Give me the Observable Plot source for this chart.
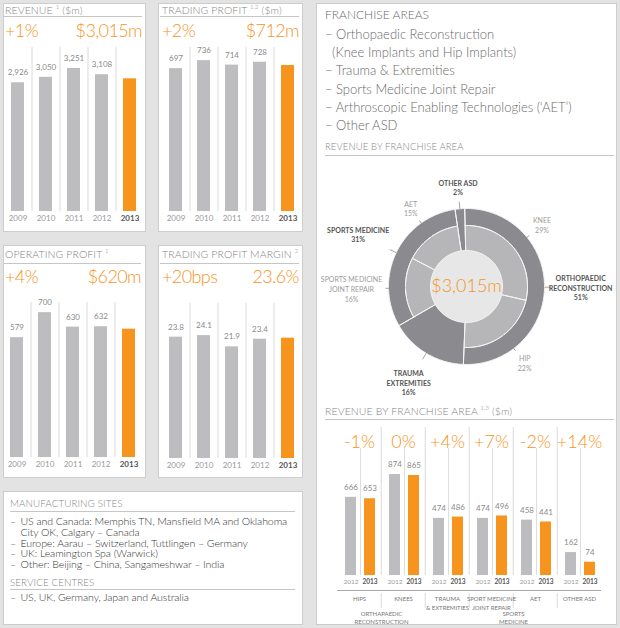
<!DOCTYPE html>
<html><head><meta charset="utf-8">
<script src="https://cdn.jsdelivr.net/npm/d3@7"></script>
<script src="https://cdn.jsdelivr.net/npm/@observablehq/plot@0.6"></script>
<style>
body{margin:0;background:#e3e3e3;}
#page{position:relative;width:620px;height:628px;background:#e3e3e3;overflow:hidden;font-family:Lato,"Open Sans",sans-serif;}
.panel{position:absolute;background:#fff;border:1px solid #cdcdcd;box-sizing:border-box;}
.t{position:absolute;white-space:pre;line-height:1;}
.title{font-size:10.5px;color:#858585;font-weight:300;letter-spacing:0.1px;}
.title sup{font-size:6px;vertical-align:top;position:relative;top:-1px;}
.big{font-size:18px;color:#f7941d;font-weight:300;letter-spacing:-0.6px;}
.hr{position:absolute;height:0;border-top:1px solid #c6c6c6;}
.list{font-size:13px;color:#6a6a6a;font-weight:300;}
.item{font-size:10.6px;color:#333;font-weight:300;letter-spacing:-0.1px;}
svg{position:absolute;}
</style></head>
<body><div id="page"></div>
<script>
// ---------- data ----------
const years = ["2009", "2010", "2011", "2012", "2013"];
const revenue = [2926, 3050, 3251, 3108, 3015];
const tradingProfit = [697, 736, 714, 728, 712];
const operatingProfit = [579, 700, 630, 632, 620];
const tradingMargin = [23.8, 24.1, 21.9, 23.4, 23.6];

const franchiseKeys = ["HIPS", "KNEES", "TRAUMA", "SMJR", "AET", "OTHER"];
const franchiseLabels = ["HIPS", "KNEES", "TRAUMA\n& EXTREMITIES", "SPORT MEDICINE\nJOINT REPAIR", "AET", "OTHER ASD"];
const franchise2012 = [666, 874, 474, 474, 458, 162];
const franchise2013 = [653, 865, 486, 496, 441, 74];
const franchiseChange = ["-1%", "0%", "+4%", "+7%", "-2%", "+14%"];
const parentAfter = ["HIPS", "SMJR"];
const parentLabels = ["ORTHAPAEDIC\nRECONSTRUCTION", "SPORTS\nMEDICINE"];

const areaNames = ["ORTHOPAEDIC\nRECONSTRUCTION", "TRAUMA\nEXTREMITIES", "SPORTS MEDICINE", "OTHER ASD"];
const areaPct = [51, 16, 31, 2];
const partNames = ["KNEE", "HIP", "SPORTS MEDICINE\nJOINT REPAIR", "AET"];
const partPct = [29, 22, 16, 15];
const partArea = [0, 0, 2, 2];

const franchiseList = ["– Orthopaedic Reconstruction", "  (Knee Implants and Hip Implants)", "– Trauma & Extremities", "– Sports Medicine Joint Repair", "– Arthroscopic Enabling Technologies (‘AET’)", "– Other ASD"];
const mfgSites = ["US and Canada: Memphis TN, Mansfield MA and Oklahoma\nCity OK, Calgary – Canada", "Europe: Aarau – Switzerland, Tuttlingen – Germany", "UK: Leamington Spa (Warwick)", "Other: Beijing – China, Sangameshwar – India"];
const serviceCentres = ["US, UK, Germany, Japan and Australia"];

// ---------- helpers ----------
const gray = "#bdbdbf", orange = "#f7941d";
const page = document.getElementById("page");
function panel(l, t, w, h) { const d = document.createElement("div"); d.className = "panel"; Object.assign(d.style, {left: l + "px", top: t + "px", width: w + "px", height: h + "px"}); page.appendChild(d); }
function txt(x, y, html, cls, anchor = "start", style = {}) {
  const d = document.createElement("div"); d.className = "t " + cls; d.innerHTML = html;
  d.style.left = x + "px"; d.style.top = y + "px";
  const tx = anchor === "end" ? "-100%" : anchor === "middle" ? "-50%" : "0";
  d.style.transform = `translate(${tx},-50%)`; Object.assign(d.style, style); page.appendChild(d); return d;
}
function hr(x1, x2, y) { const d = document.createElement("div"); d.className = "hr"; Object.assign(d.style, {left: x1 + "px", top: y + "px", width: (x2 - x1) + "px"}); page.appendChild(d); }
function place(svg, x, y) { svg.style.left = x + "px"; svg.style.top = y + "px"; page.appendChild(svg); }
const plotStyle = {background: "transparent", overflow: "visible", fontFamily: "Lato, sans-serif"};

// ---------- panels ----------
panel(3, 3, 143, 229); panel(158, 3, 145, 229);
panel(3, 245, 143, 233); panel(158, 245, 145, 233);
panel(3, 491, 300, 134); panel(316, 3, 301, 622);

// ---------- small bar charts ----------
function smallChart(values, fmt, yMax, left, top, plotH) {
  const rows = years.map((year, i) => ({year, value: values[i]}));
  const past = rows.filter(d => d.year !== years[years.length - 1]);
  const cur = rows.filter(d => d.year === years[years.length - 1]);
  const svg = Plot.plot({
    width: 140, height: plotH + 20, marginTop: 0, marginBottom: 20, marginLeft: 0, marginRight: 0,
    style: plotStyle,
    x: {domain: years, paddingInner: 0.536, paddingOuter: 0.268, axis: null},
    y: {domain: [0, yMax], axis: null},
    color: {domain: ["past", "current"], range: [gray, orange]},
    marks: [
      Plot.ruleX(years.slice(0, -1), {x: d => d, dx: 14, stroke: "#dadada"}),
      Plot.barY(rows, {x: "year", y: "value", fill: d => d.year === years[years.length - 1] ? "current" : "past"}),
      Plot.text(past, {x: "year", y: "value", text: d => fmt(d.value), dy: -10, fontSize: 8, fill: "#8a8a8a"}),
      Plot.text(past, {x: "year", text: "year", frameAnchor: "bottom", dy: 9, fontSize: 8, fill: "#9a9a9a"}),
      Plot.text(cur, {x: "year", text: "year", frameAnchor: "bottom", dy: 9, fontSize: 8, fill: "#555", fontWeight: "bold"})
    ]
  });
  place(svg, left, top);
}
smallChart(revenue, d3.format(","), 3727, 3, 47, 164);
smallChart(tradingProfit, d3.format(""), 800, 160.5, 47, 164);
smallChart(operatingProfit, d3.format(""), 749, 2, 302, 155);
smallChart(tradingMargin, d3.format(".1f"), 30.4, 160.5, 303, 155);

// titles + headline figures
txt(5, 10, "REVENUE <sup>1</sup> ($m)", "title"); hr(4, 142, 16);
txt(5, 29.5, "+1%", "big"); txt(142, 29.5, "$" + d3.format(",")(revenue[4]) + "m", "big", "end");
txt(162, 10, "TRADING PROFIT <sup>1,2</sup> ($m)", "title"); hr(160, 299, 16);
txt(162, 29.5, "+2%", "big"); txt(299, 29.5, "$" + tradingProfit[4] + "m", "big", "end");
txt(5, 254, "OPERATING PROFIT <sup>1</sup>", "title"); hr(4, 141, 263);
txt(5, 276, "+4%", "big"); txt(141, 276, "$" + operatingProfit[4] + "m", "big", "end");
txt(162, 254, "TRADING PROFIT MARGIN <sup>2</sup>", "title"); hr(160, 299, 263);
txt(162, 276, "+20bps", "big"); txt(299, 276, tradingMargin[4] + "%", "big", "end");

// ---------- bottom-left text ----------
txt(10, 504, "MANUFACTURING SITES", "title", "start", {fontSize: "9.8px"}); hr(10, 295, 511);
let yy = 521;
mfgSites.forEach(s => {
  const lines = s.split("\n");
  lines.forEach((l, j) => { if (j === 0) txt(10, yy, "–", "item"); txt(20.5, yy, l, "item"); yy += 10.8; });
});
txt(10, 583, "SERVICE CENTRES", "title", "start", {fontSize: "9.8px"}); hr(10, 295, 589);
serviceCentres.forEach((s, i) => { txt(10, 597 + i * 10.8, "–", "item"); txt(20.5, 597 + i * 10.8, s, "item"); });

// ---------- right panel text ----------
txt(325, 15, "FRANCHISE AREAS", "list", "start", {fontSize: "12px"});
franchiseList.forEach((s, i) => txt(325, 34 + i * 18.2, s, "list"));
txt(325, 147, "REVENUE BY FRANCHISE AREA", "title", "start", {fontSize: "9.5px"}); hr(325, 614, 155);
txt(325, 411, "REVENUE BY FRANCHISE AREA <sup>1,3</sup> ($m)", "title"); hr(325, 614, 419);

// ---------- donut ----------
(function () {
  const start = -1.3, rIn = 36, rMid = 61, rOut = 78;
  const polys = [];
  function arc(id, kind, a0, a1, r0, r1) {
    const pts = [];
    const n = Math.max(2, Math.ceil(Math.abs(a1 - a0)));
    for (let k = 0; k <= n; k++) { const a = (a0 + (a1 - a0) * k / n) * Math.PI / 180; pts.push([r1 * Math.sin(a), r1 * Math.cos(a)]); }
    if (r0 > 0) for (let k = n; k >= 0; k--) { const a = (a0 + (a1 - a0) * k / n) * Math.PI / 180; pts.push([r0 * Math.sin(a), r0 * Math.cos(a)]); }
    pts.push(pts[0]);
    pts.forEach(([x, y]) => polys.push({id, kind, x, y}));
  }
  const labels = [];
  let acc = start;
  areaNames.forEach((name, i) => {
    const a0 = acc, a1 = acc + areaPct[i] * 3.6; acc = a1;
    const parts = partNames.map((p, j) => j).filter(j => partArea[j] === i);
    if (parts.length) {
      arc("a" + i, "outer", a0, a1, rMid, rOut);
      let b = a0;
      parts.forEach(j => { const b1 = b + partPct[j] * 3.6; arc("p" + j, "inner", b, b1, rIn, rMid); labels.push({text: partNames[j] + "\n" + partPct[j] + "%", mid: (b + b1) / 2, edge: rMid, D: 84, dark: false}); b = b1; });
    } else {
      arc("a" + i, "outer", a0, a1, rIn, rOut);
    }
    labels.push({text: name + "\n" + areaPct[i] + "%", mid: (a0 + a1) / 2, edge: rOut, D: 88, dark: true});
  });
  arc("disk", "disk", 0, 360, 0, rIn);
  const ctx = document.createElement("canvas").getContext("2d");
  const fs = 7, lh = 1.4;
  labels.forEach(L => {
    ctx.font = `${L.dark ? "bold" : "normal"} ${fs}px Lato`;
    const lines = L.text.split("\n");
    const w = d3.max(lines, l => ctx.measureText(l).width), h = lines.length * fs * lh;
    const a = L.mid * Math.PI / 180, s = Math.sin(a), c = Math.cos(a);
    const d = L.D + (w / 2) * Math.abs(s) + (h / 2) * Math.abs(c);
    L.x = Math.max(-146 + w / 2, Math.min(146 - w / 2, d * s));
    L.y = d * c;
    L.x1 = L.edge * s; L.y1 = L.edge * c;
    L.x2 = (L.D - 3) * s; L.y2 = (L.D - 3) * c;
  });
  const total = d3.sum(franchise2013);
  const svg = Plot.plot({
    width: 300, height: 240, margin: 0, style: plotStyle,
    x: {domain: [-150, 150], axis: null}, y: {domain: [-114, 126], axis: null},
    color: {domain: ["outer", "inner", "disk"], range: ["#8b8a8f", "#b6b6b8", "#e7e7e7"]},
    marks: [
      Plot.line(polys, {x: "x", y: "y", z: "id", fill: "kind", stroke: "none"}),
      Plot.line(polys.filter(d => d.kind !== "disk"), {x: "x", y: "y", z: "id", stroke: "#f4f4f4", strokeWidth: 1}),
      Plot.link(labels, {x1: "x1", y1: "y1", x2: "x2", y2: "y2", stroke: "#8d8d8d", strokeWidth: 0.8}),
      Plot.text(labels.filter(d => d.dark), {x: "x", y: "y", text: "text", fontSize: fs, lineHeight: lh, fill: "#555", fontWeight: "bold"}),
      Plot.text(labels.filter(d => !d.dark), {x: "x", y: "y", text: "text", fontSize: fs, lineHeight: lh, fill: "#9b9b9b"}),
      Plot.text([total], {x: () => 0, y: () => 0, text: d => "$" + d3.format(",")(d) + "m", fontSize: 18, fill: orange, fontWeight: 300})
    ]
  });
  place(svg, 316, 160);
})();

// ---------- franchise bar chart ----------
(function () {
  const rows = [];
  franchiseKeys.forEach((g, i) => { rows.push({group: g, year: "2012", value: franchise2012[i]}); rows.push({group: g, year: "2013", value: franchise2013[i]}); });
  const groups = franchiseKeys.map((g, i) => ({group: g, label: franchiseLabels[i], change: franchiseChange[i]}));
  const parents = parentAfter.map((g, i) => ({group: g, label: parentLabels[i]}));
  const W = 264, facetW = W / franchiseKeys.length;
  const pi = 0.4, po = 0.35, align = 0.6;
  const step = facetW / (2 - pi + 2 * po), bw = step * (1 - pi);
  const first = (facetW - step * (2 - pi)) * align + bw / 2; // centre of the 2012 band
  const base = -47;
  const svg = Plot.plot({
    width: W, height: 201, marginTop: 0, marginBottom: 53, marginLeft: 0, marginRight: 0, style: plotStyle,
    fx: {domain: franchiseKeys, padding: 0, axis: null},
    x: {domain: ["2012", "2013"], paddingInner: pi, paddingOuter: po, align, axis: null},
    y: {domain: [base, 1303], axis: null},
    color: {domain: ["2012", "2013"], range: [gray, orange]},
    marks: [
      Plot.ruleX(groups.slice(1), {fx: "group", x: () => "2012", dx: -first, stroke: "#dcdcdc"}),
      Plot.ruleX(groups.slice(1), {fx: "group", x: () => "2012", dx: -first, insetTop: 166, insetBottom: -33, stroke: "#dcdcdc"}),
      Plot.ruleX(groups, {fx: "group", x: () => "2012", dx: step / 2, insetTop: 21, stroke: "#dcdcdc"}),
      Plot.barY(rows, {fx: "group", x: "year", y1: base, y2: "value", fill: "year"}),
      Plot.text(rows, {fx: "group", x: "year", y: "value", text: "value", dy: -10, fontSize: 8, fill: "#8a8a8a"}),
      Plot.text(rows.filter(d => d.year === "2012"), {fx: "group", x: "year", text: "year", frameAnchor: "bottom", dy: 8, fontSize: 6.5, fill: "#9a9a9a", letterSpacing: -0.3}),
      Plot.text(rows.filter(d => d.year === "2013"), {fx: "group", x: "year", text: "year", frameAnchor: "bottom", dy: 8, fontSize: 6.5, fill: "#555", fontWeight: "bold", letterSpacing: -0.3}),
      Plot.ruleY([base], {dy: 15, stroke: "#a8a8a8"}),
      Plot.text(groups, {fx: "group", text: "label", frameAnchor: "bottom", dy: 19.5, lineAnchor: "top", fontSize: 6, lineHeight: 1.45, fill: "#777", letterSpacing: -0.35}),
      Plot.text(parents, {fx: "group", text: "label", frameAnchor: "bottom-right", textAnchor: "middle", dy: 34.5, lineAnchor: "top", fontSize: 6, lineHeight: 1.35, fill: "#777", letterSpacing: -0.3}),
      Plot.text(groups, {fx: "group", text: "change", frameAnchor: "top", dy: 8, fontSize: 18, fill: orange, fontWeight: 300, letterSpacing: -0.4})
    ]
  });
  place(svg, 337, 427);
})();
</script></body></html>
